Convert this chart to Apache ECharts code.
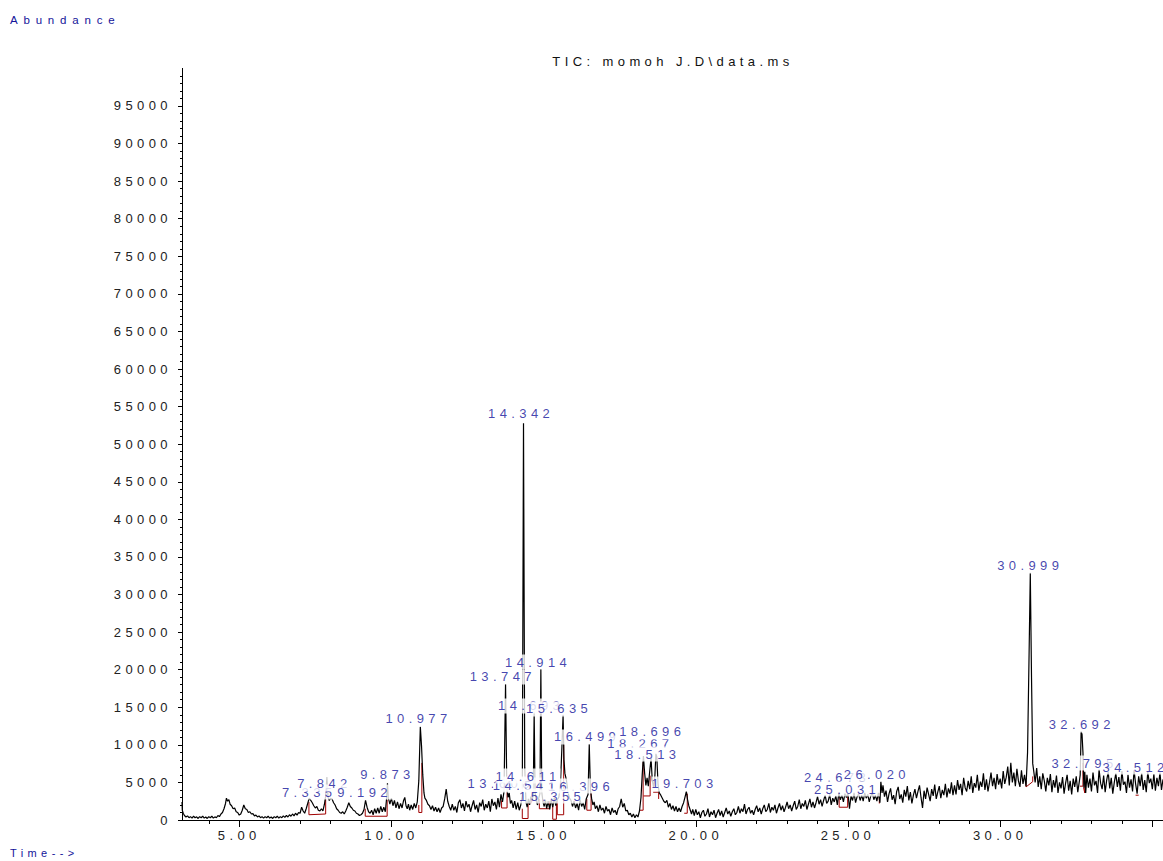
<!DOCTYPE html>
<html>
<head>
<meta charset="utf-8">
<script src="https://cdn.jsdelivr.net/npm/echarts@6/dist/echarts.min.js"></script>
<style>
html,body{margin:0;padding:0;background:#fff;overflow:hidden;}
#main{width:1163px;height:861px;}
#main text{letter-spacing:4.4px;}
#main text[style*="11.5px"]{letter-spacing:5.8px;}
</style>
</head>
<body>
<div id="main"></div>
<script>
// ---- data ----
const xTickValues = [5, 10, 15, 20, 25, 30, 35];
const xLabelValues = [5, 10, 15, 20, 25, 30];
const xMinorTickValues = [4,5,6,7,8,9,10,11,12,13,14,15,16,17,18,19,20,21,22,23,24,25,26,27,28,29,30,31,32,33,34,35];
const yTickValues = [0,5000,10000,15000,20000,25000,30000,35000,40000,45000,50000,55000,60000,65000,70000,75000,80000,85000,90000,95000];

// TIC trace: [retention time (min), abundance]
const ticTrace = [
[3.12,2400],[3.13,1300],[3.16,900],[3.2,600],[3.25,400],[3.3,550],[3.35,300],[3.4,450],[3.45,250],
[3.5,500],[3.55,300],[3.6,420],[3.65,200],[3.7,450],[3.75,300],[3.8,500],[3.85,250],[3.9,400],[3.95,200],
[4.0,450],[4.05,300],[4.1,500],[4.15,250],[4.2,420],[4.25,300],[4.3,600],[4.35,450],[4.4,800],[4.45,1000],
[4.5,1500],[4.55,2200],[4.58,2900],[4.62,2500],[4.66,2700],[4.7,2100],[4.75,1900],[4.8,1500],[4.85,1600],[4.9,1100],
[4.95,1000],[5.0,650],[5.05,800],[5.1,1300],[5.15,2000],[5.2,1500],[5.25,1400],[5.3,1000],[5.35,1100],[5.4,800],
[5.45,850],[5.5,550],[5.55,650],[5.6,400],[5.65,550],[5.7,300],[5.75,450],[5.8,250],[5.85,450],[5.9,300],
[5.95,500],[6.0,250],[6.05,400],[6.1,200],[6.15,450],[6.2,300],[6.25,500],[6.3,250],[6.35,450],[6.4,300],
[6.45,550],[6.5,350],[6.55,600],[6.6,400],[6.65,700],[6.7,500],[6.75,800],[6.8,550],[6.85,900],[6.9,650],
[6.95,1000],[7.0,900],[7.05,1700],[7.1,1200],[7.15,900],[7.2,1500],[7.25,2200],[7.3,2900],[7.35,2600],[7.4,2300],
[7.45,1900],[7.5,1600],[7.55,1800],[7.6,1300],[7.65,1200],[7.7,1500],[7.75,1200],[7.8,2100],[7.84,3200],[7.88,5700],
[7.92,3000],[7.96,2600],[8.0,2900],[8.05,2800],[8.1,2300],[8.15,2000],[8.2,1500],[8.25,1300],[8.3,1000],[8.35,900],
[8.4,1100],[8.45,800],[8.5,1200],[8.55,1700],[8.6,2300],[8.65,1800],[8.7,1600],[8.75,1300],[8.8,1200],[8.85,900],
[8.9,800],[8.95,600],[9.0,700],[9.05,900],[9.1,1400],[9.15,2600],[9.2,1700],[9.25,1100],[9.3,900],[9.35,1300],
[9.4,700],[9.45,1500],[9.5,900],[9.55,1600],[9.6,900],[9.65,1800],[9.7,1100],[9.75,1700],[9.8,1100],[9.84,2800],
[9.87,4900],[9.9,2900],[9.95,2100],[10.0,2900],[10.05,1900],[10.1,2600],[10.15,1600],[10.2,2400],[10.25,1500],[10.3,2200],
[10.35,1600],[10.4,2600],[10.44,3000],[10.48,1900],[10.52,1500],[10.56,2100],[10.6,1300],[10.65,2000],[10.7,1400],[10.75,2200],
[10.8,1600],[10.85,2400],[10.9,5200],[10.95,12400],[10.99,9800],[11.03,6000],[11.07,3600],[11.1,2900],[11.15,2600],[11.2,2100],
[11.25,1900],[11.3,1400],[11.35,1900],[11.4,1200],[11.45,1700],[11.5,1100],[11.55,1600],[11.6,1000],[11.65,1600],[11.7,1800],
[11.75,2800],[11.8,4100],[11.85,2500],[11.9,1800],[11.95,1300],[12.0,2100],[12.05,1300],[12.1,1800],[12.15,1000],[12.2,2300],
[12.25,2700],[12.3,1600],[12.35,2200],[12.4,1200],[12.45,2500],[12.5,1700],[12.55,2100],[12.6,1100],[12.65,1900],[12.7,2600],
[12.75,1400],[12.8,2000],[12.85,1000],[12.9,2300],[12.95,1800],[13.0,2700],[13.05,1300],[13.1,2100],[13.15,1600],[13.2,2500],
[13.25,1100],[13.3,2800],[13.35,1900],[13.4,2400],[13.45,1400],[13.5,2900],[13.55,1700],[13.6,3400],[13.65,2400],[13.7,3800],
[13.75,18100],[13.79,4600],[13.83,3000],[13.87,3600],[13.91,2200],[13.95,2600],[14.0,1600],[14.05,2500],[14.1,1400],[14.15,2300],
[14.2,1300],[14.25,2000],[14.3,3200],[14.34,52800],[14.38,7000],[14.42,2400],[14.46,1700],[14.5,2800],[14.54,2000],[14.58,3100],
[14.62,2500],[14.66,3400],[14.69,14400],[14.72,3600],[14.76,2500],[14.8,2000],[14.84,2900],[14.88,3500],[14.91,20100],[14.94,3700],
[14.98,2400],[15.02,1800],[15.06,2700],[15.1,1500],[15.15,2500],[15.2,1400],[15.25,2700],[15.3,1700],[15.35,2900],[15.4,1900],
[15.45,2700],[15.5,3000],[15.55,4400],[15.6,9500],[15.64,14000],[15.67,8000],[15.7,6200],[15.75,5300],[15.8,3700],[15.85,2900],
[15.9,2600],[15.95,1800],[16.0,2500],[16.05,1600],[16.1,2200],[16.15,1300],[16.2,2700],[16.25,1800],[16.3,2300],[16.35,1400],
[16.4,2800],[16.46,3400],[16.5,10100],[16.54,3900],[16.58,2800],[16.62,2000],[16.66,2400],[16.7,1500],[16.75,1900],[16.8,1100],
[16.85,2000],[16.9,1300],[16.95,1600],[17.0,900],[17.05,1800],[17.1,1200],[17.15,1400],[17.2,700],[17.25,1600],[17.3,1000],
[17.35,1300],[17.4,700],[17.45,1500],[17.5,1800],[17.55,2800],[17.6,1700],[17.65,2200],[17.7,1200],[17.75,1300],[17.8,700],
[17.85,900],[17.9,400],[17.95,800],[18.0,300],[18.05,700],[18.1,400],[18.15,1200],[18.2,3000],[18.24,6000],[18.28,8500],
[18.32,6200],[18.36,4600],[18.4,5600],[18.44,4500],[18.48,6200],[18.53,8200],[18.57,5300],[18.61,4400],[18.65,5400],[18.69,8800],
[18.72,8400],[18.76,4700],[18.8,3600],[18.85,3300],[18.9,2900],[18.95,2500],[19.0,2300],[19.05,2600],[19.1,1700],[19.15,2200],
[19.2,1400],[19.25,1900],[19.3,1200],[19.35,1800],[19.4,1100],[19.45,1600],[19.5,1100],[19.55,1800],[19.6,2300],[19.65,3100],
[19.69,3800],[19.73,2700],[19.77,1900],[19.82,1300],[19.86,800],[19.9,1400],[19.95,600],
[20.0,1400],[20.05,700],[20.1,1100],[20.15,300],[20.2,1000],[20.25,1300],[20.3,500],[20.35,800],[20.4,1500],[20.45,400],
[20.5,1100],[20.55,700],[20.6,1300],[20.65,300],[20.7,900],[20.75,1400],[20.8,600],[20.85,1200],[20.9,400],[20.95,1000],
[21.0,1600],[21.05,800],[21.1,1200],[21.15,500],[21.2,1100],[21.25,1500],[21.3,700],[21.35,1000],[21.4,1800],[21.45,900],
[21.5,1500],[21.55,1100],[21.6,2100],[21.65,800],[21.7,1400],[21.75,1700],[21.8,900],[21.85,1300],[21.9,700],[21.95,1400],
[22.0,1900],[22.05,1100],[22.1,1600],[22.15,800],[22.2,1500],[22.25,2000],[22.3,1100],[22.35,1400],[22.4,2200],[22.45,1000],
[22.5,1700],[22.55,1300],[22.6,2000],[22.65,900],[22.7,1600],[22.75,2200],[22.8,1300],[22.85,1900],[22.9,1100],[22.95,1700],
[23.0,2400],[23.05,1500],[23.1,2000],[23.15,1200],[23.2,1900],[23.25,2500],[23.3,1400],[23.35,1800],[23.4,2700],[23.45,1500],
[23.5,2200],[23.55,1800],[23.6,2600],[23.65,1400],[23.7,2100],[23.75,2800],[23.8,1700],[23.85,2400],[23.9,1600],[23.95,2300],
[24.0,3100],[24.05,2100],[24.1,2700],[24.15,1800],[24.2,2600],[24.25,3300],[24.3,2200],[24.35,2500],[24.4,3400],[24.45,2000],
[24.5,2900],[24.55,2400],[24.6,3200],[24.65,2000],[24.7,3600],[24.75,2700],[24.8,3300],[24.85,2400],[24.9,3500],[24.95,3000],
[25.0,3600],[25.05,1500],[25.1,3200],[25.15,2600],[25.2,3600],[25.25,2300],[25.3,3100],[25.35,3500],[25.4,2600],[25.45,3300],
[25.5,2500],[25.55,3600],[25.6,2900],[25.65,3400],[25.7,2400],[25.75,3200],[25.8,3600],[25.85,2700],[25.9,3300],[25.95,2500],
[26.0,3600],[26.05,2300],[26.08,5100],[26.12,3600],[26.15,4600],[26.2,3100],[26.25,3900],[26.3,2400],[26.35,3500],[26.4,4200],
[26.45,2700],[26.5,3300],[26.55,2100],[26.6,3800],[26.65,4400],[26.7,2800],[26.75,3400],[26.8,2300],[26.85,4000],[26.9,3100],
[26.95,4500],[27.0,2600],[27.05,3700],[27.1,2200],[27.15,3300],[27.2,4100],[27.25,2900],[27.3,3800],[27.35,4600],[27.4,3000],
[27.45,1600],[27.5,3900],[27.55,2800],[27.6,4300],[27.65,3400],[27.7,2500],[27.75,4100],[27.8,3200],[27.85,4700],[27.9,2800],
[27.95,3700],[28.0,4500],[28.05,2900],[28.1,4000],[28.15,3300],[28.2,4800],[28.25,3000],[28.3,4200],[28.35,3500],[28.4,5000],
[28.45,3300],[28.5,4600],[28.55,3400],[28.6,5300],[28.65,4000],[28.7,4800],[28.75,3300],[28.8,5600],[28.85,4300],[28.9,3800],
[28.95,5200],[29.0,4100],[29.05,5800],[29.1,3600],[29.15,4900],[29.2,4300],[29.25,6000],[29.3,3900],[29.35,5100],[29.4,4400],
[29.45,6200],[29.5,4000],[29.55,5400],[29.6,3800],[29.65,5000],[29.7,6300],[29.75,4500],[29.8,5600],[29.85,4100],[29.9,6100],
[29.95,4700],[30.0,5500],[30.05,4200],[30.1,6500],[30.15,4800],[30.2,5700],[30.25,7100],[30.3,4600],[30.35,7600],[30.4,5000],
[30.45,6300],[30.5,4500],[30.55,6800],[30.6,5200],[30.65,4400],[30.7,6600],[30.75,4800],[30.8,6000],[30.85,4500],[30.9,9000],
[30.95,22000],[30.99,32900],[31.03,19000],[31.07,7500],[31.1,6600],[31.15,5000],[31.2,6900],[31.25,4400],[31.3,5800],[31.35,4100],
[31.4,6200],[31.45,5200],[31.5,3800],[31.55,5600],[31.6,4600],[31.65,6100],[31.7,3700],[31.75,5300],[31.8,4300],[31.85,5900],
[31.9,3600],[31.95,5000],[32.0,4200],[32.05,5700],[32.1,3500],[32.15,4900],[32.2,6000],[32.25,3900],[32.3,5200],[32.35,3400],
[32.4,5500],[32.45,4400],[32.5,5800],[32.55,3700],[32.6,5100],[32.63,6000],[32.66,11800],[32.69,11400],[32.72,9000],[32.75,4300],
[32.78,6400],[32.81,3600],[32.85,6000],[32.9,4300],[32.95,5500],[33.0,3800],[33.05,6300],[33.1,4600],[33.15,5200],[33.2,3600],
[33.25,6700],[33.3,4900],[33.35,4100],[33.4,5900],[33.45,3700],[33.5,5300],[33.55,6400],[33.6,4200],[33.65,5600],[33.7,3500],
[33.75,5000],[33.8,6200],[33.85,4400],[33.9,5700],[33.95,3900],[34.0,6500],[34.05,4700],[34.1,5100],[34.15,3600],[34.2,6000],
[34.25,4300],[34.3,5400],[34.35,3800],[34.4,6600],[34.45,4800],[34.5,3500],[34.55,5800],[34.6,4500],[34.65,6200],[34.7,4000],
[34.75,5300],[34.8,3700],[34.85,6400],[34.9,4900],[34.95,5500],[35.0,4100],[35.05,6100],[35.1,3900],[35.15,5600],[35.2,4500],
[35.25,6300],[35.3,4000],[35.35,5400]
];

// integration baselines (red), each a polyline of [time, abundance]
const baselineSegments = [
[[7.29,2400],[7.29,700],[7.84,800],[7.84,2800]],
[[9.14,1500],[9.14,500],[9.86,500],[9.86,2700]],
[[10.9,2000],[10.9,1000],[11.0,1000],[11.0,7600]],
[[13.62,2600],[13.62,1600],[13.8,1600],[13.8,4400]],
[[14.3,1500],[14.3,200],[14.49,200],[14.49,2300],[14.6,2300],[14.6,3000]],
[[14.86,2800],[14.86,1500],[15.2,1500],[15.2,2500]],
[[15.3,2200],[15.3,100],[15.42,100],[15.42,2300]],
[[15.45,2500],[15.45,700],[15.66,700],[15.66,10000]],
[[16.42,2800],[16.42,1300],[16.56,1300],[16.56,3600]],
[[18.15,1300],[18.27,1300],[18.27,7700]],
[[18.28,3200],[18.5,3200],[18.5,5900]],
[[18.6,3700],[18.78,3700],[18.78,2800]],
[[19.62,900],[19.72,900],[19.72,3500]],
[[24.71,3600],[24.71,1700],[24.99,1700],[24.99,3200]],
[[26.03,3600],[26.03,2200]],
[[30.85,5200],[30.85,4400],[31.07,5100],[31.07,5800]],
[[32.62,4500],[32.72,4500],[32.72,7600]],
[[32.74,4300],[32.78,3600],[32.78,6000]],
[[34.45,3300],[34.55,3300]]
];

// peak labels (drawing order: later ones lie on top)
const peakLabels = ['7.335','7.842','9.192','9.873','10.977','13.608','14.541','16.396','14.611','15.355','14.693','15.635','13.747','14.914','14.342','16.499','18.267','18.696','18.513','19.703','24.673','25.031','26.020','30.999','32.692','32.795','34.512'];
const labelTime = [7.30,7.80,9.12,9.87,10.89,13.59,14.42,16.23,14.49,15.28,14.59,15.51,13.66,14.82,14.26,16.43,18.18,18.57,18.41,19.63,24.64,24.97,25.95,30.99,32.68,32.77,34.45];
const labelAbund = [3725,4790,3725,5990,13440,4790,4650,4520,5850,3190,15170,14770,19030,21020,54020,11050,10240,11710,8780,4790,5590,4120,6120,33800,12640,7580,7050];

// ---- chart ----
const FONT = 'Liberation Sans, Arial, sans-serif';
const BLUE = '#14149a';
const chart = echarts.init(document.getElementById('main'), null, {renderer: 'svg'});
const xMin = 3.12, xMax = 35.35;

chart.setOption({
  animation: false,
  backgroundColor: '#fff',
  grid: {left: 182, right: 0, top: 68.4, bottom: 41, outerBoundsMode: 'none', containLabel: false},
  xAxis: [{
    type: 'value', min: xMin, max: xMax,
    axisLine: {show: true, onZero: false, lineStyle: {color: '#000', width: 1}},
    axisTick: {show: true, customValues: xTickValues, length: 7, lineStyle: {color: '#000'}},
    axisLabel: {customValues: xLabelValues, formatter: v => v.toFixed(2), color: '#222', fontSize: 13, fontFamily: FONT, margin: 9},
    splitLine: {show: false}
  }, {
    type: 'value', min: xMin, max: xMax, position: 'bottom',
    axisLine: {show: false},
    axisTick: {show: true, customValues: xMinorTickValues, length: 4, lineStyle: {color: '#000'}},
    axisLabel: {show: false},
    splitLine: {show: false}
  }],
  yAxis: {
    type: 'value', min: 0, max: 100000, interval: 5000,
    axisLine: {show: true, lineStyle: {color: '#000', width: 1}},
    axisTick: {show: true, customValues: yTickValues, length: 4, lineStyle: {color: '#000'}},
    minorTick: {show: true, splitNumber: 5, length: 2, lineStyle: {color: '#000'}},
    axisLabel: {customValues: yTickValues, formatter: v => String(v), color: '#222', fontSize: 13, fontFamily: FONT, margin: 10},
    splitLine: {show: false}
  },
  graphic: [
    {type: 'text', left: 10, top: 14, style: {text: 'Abundance', fill: BLUE, font: '11.5px ' + FONT}},
    {type: 'text', left: 10, top: 847, style: {text: 'Time-->', fill: BLUE, font: '11px ' + FONT}},
    {type: 'text', x: 673, y: 61, style: {text: 'TIC: momoh J.D\\data.ms', fill: '#111', font: '13px ' + FONT, align: 'center', verticalAlign: 'middle'}}
  ],
  series: [{
    type: 'lines',
    coordinateSystem: 'cartesian2d',
    polyline: true,
    data: baselineSegments.map(s => ({coords: s})),
    lineStyle: {color: '#a00000', width: 1, opacity: 1},
    silent: true,
    z: 1
  }, {
    type: 'line',
    data: ticTrace,
    showSymbol: false,
    symbol: 'none',
    sampling: null,
    lineStyle: {color: '#000', width: 1.2},
    silent: true,
    z: 2
  }, {
    type: 'scatter',
    data: peakLabels.map((s, i) => [labelTime[i], labelAbund[i], s]),
    symbolSize: 0,
    silent: true,
    z: 10,
    label: {
      show: true, position: 'inside',
      formatter: p => p.data[2],
      color: BLUE, fontSize: 13, fontFamily: FONT,
      backgroundColor: '#fff', padding: [1, 13, 1, 13]
    }
  }]
});
</script>
</body>
</html>
